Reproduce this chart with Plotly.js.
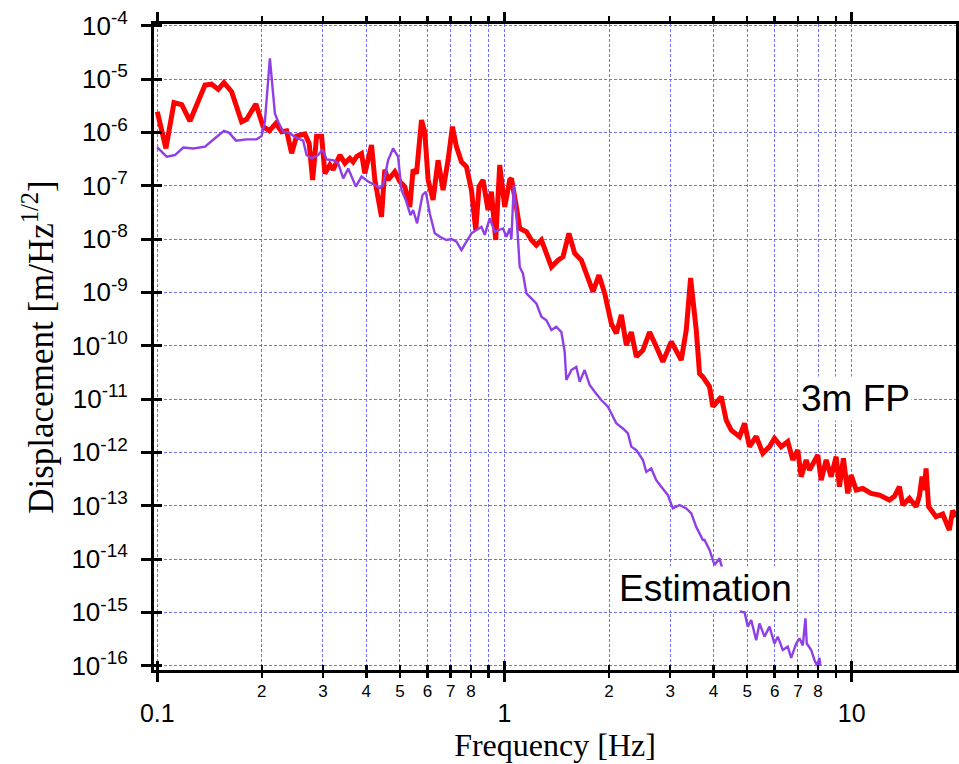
<!DOCTYPE html>
<html><head><meta charset="utf-8">
<script src="https://cdn.plot.ly/plotly-3.0.1.min.js"></script>
<style>html,body{margin:0;padding:0;background:#fff;}#chart{width:959px;height:764px;}</style>
</head><body><div id="chart"></div>
<script>
// 3m FP measured displacement spectrum
const fpFreq = [0.100,0.1059,0.1117,0.1176,0.1242,0.1372,0.1434,0.1498,0.1556,0.1637,0.1749,0.1808,0.1923,0.2018,0.2101,0.2196,0.228,0.2357,0.2437,0.2519,0.2661,0.2738,0.2801,0.2876,0.2973,0.3039,0.3141,0.3210,0.3357,0.347,0.3587,0.3664,0.3748,0.3874,0.3960,0.414,0.4232,0.4423,0.4521,0.4620,0.4831,0.4994,0.5162,0.5336,0.5454,0.5579,0.5767,0.5895,0.6025,0.6226,0.6436,0.6653,0.6877,0.7079,0.7270,0.7516,0.7769,0.8030,0.8263,0.8446,0.8673,0.8964,0.9168,0.9434,0.9687,1.0014,1.035,1.047,1.082,1.106,1.156,1.195,1.235,1.277,1.320,1.365,1.426,1.474,1.533,1.592,1.665,1.739,1.798,1.871,1.943,2.031,2.099,2.170,2.243,2.318,2.397,2.504,2.617,2.736,2.858,3.022,3.124,3.229,3.338,3.435,3.566,3.645,3.726,3.895,3.981,4.209,4.351,4.498,4.752,4.912,5.077,5.307,5.544,5.796,5.991,6.263,6.543,6.763,6.991,7.151,7.392,7.556,7.985,8.166,8.44,8.724,9.018,9.218,9.464,9.739,9.961,10.30,10.76,11.37,12.02,12.84,13.27,13.72,14.03,14.66,15.32,15.66,15.94,16.19,16.37,16.65,17.49,18.28,19.1,19.52,20.0];
const fpDisp = [2.44e-6,5.0e-7,3.6e-6,3.3e-6,1.63e-6,7.7e-6,8.0e-6,6.4e-6,8.55e-6,5.8e-6,1.58e-6,1.76e-6,3.4e-6,1.28e-6,1.07e-6,1.48e-6,1.03e-6,1.07e-6,4.05e-7,8.5e-7,9.3e-7,6.2e-7,1.28e-7,8.5e-7,8.5e-7,1.7e-7,2.45e-7,2.0e-7,3.76e-7,2.63e-7,3.26e-7,2.8e-7,3.5e-7,4.0e-7,1.7e-7,5.8e-7,1.28e-7,2.6e-8,2.0e-7,1.28e-7,1.83e-7,1.2e-7,9.6e-8,4.0e-8,2.0e-7,1.7e-7,1.7e-6,1.0e-6,1.28e-7,5.4e-8,3.0e-7,8.3e-8,3.0e-7,1.28e-6,5.4e-7,2.8e-7,2.27e-7,8.3e-8,1.48e-8,9.6e-8,1.28e-7,3.5e-8,7.7e-8,9.6e-9,2.45e-7,4.0e-8,1.28e-7,1.37e-7,4.0e-8,1.58e-8,1.37e-8,9.6e-9,7.7e-9,9.6e-9,5.4e-9,3.0e-9,4.0e-9,4.67e-9,1.28e-8,5.4e-9,4.0e-9,2.0e-9,1.03e-9,2.1e-9,9.6e-10,2.6e-10,1.7e-10,3.76e-10,1.03e-10,1.8e-10,6.2e-11,8.3e-11,1.8e-10,9.6e-11,5.0e-11,1.19e-10,7.8e-11,5.4e-11,1.97e-10,1.86e-9,1.97e-10,3.0e-11,2.6e-11,1.7e-11,7.2e-12,1.1e-11,4.0e-12,2.6e-12,1.97e-12,3.5e-12,1.28e-12,2.0e-12,9.6e-13,1.28e-12,1.83e-12,1.28e-12,1.6e-12,7.2e-13,1.1e-12,3.5e-13,7.2e-13,4.67e-13,8.9e-13,3.0e-13,7.2e-13,3.5e-13,8.3e-13,2.27e-13,7.7e-13,1.7e-13,3.76e-13,1.97e-13,2.1e-13,1.7e-13,1.58e-13,1.28e-13,1.5e-13,2.27e-13,1.03e-13,1.38e-13,9.6e-14,1.5e-13,3.5e-13,1.97e-13,5.0e-13,9.6e-14,6.2e-14,7.0e-14,3.5e-14,8.1e-14,6.2e-14];

// Estimation spectrum
const estFreq = [0.100,0.1064,0.1124,0.1188,0.1270,0.1372,0.1466,0.1556,0.1611,0.1685,0.1808,0.1932,0.1997,0.2041,0.2086,0.2110,0.2181,0.2229,0.2304,0.2382,0.2519,0.2631,0.2691,0.2782,0.2906,0.2992,0.3072,0.3210,0.3319,0.3431,0.3547,0.3731,0.3874,0.4048,0.4232,0.4373,0.4470,0.4620,0.4775,0.4937,0.5049,0.5195,0.5359,0.5454,0.5601,0.5804,0.5933,0.6092,0.6297,0.6510,0.6805,0.7035,0.7270,0.7516,0.7769,0.8030,0.8301,0.8581,0.8770,0.9066,0.9371,0.9687,0.9901,1.0127,1.035,1.047,1.063,1.082,1.106,1.130,1.156,1.195,1.235,1.277,1.320,1.365,1.410,1.458,1.490,1.507,1.558,1.610,1.646,1.701,1.759,1.818,1.900,1.985,2.031,2.099,2.193,2.267,2.318,2.397,2.504,2.560,2.646,2.736,2.828,2.954,3.054,3.193,3.338,3.451,3.566,3.726,3.768,3.851,3.895,3.981,4.026,4.161,4.209,4.807,4.912,5.02,5.134,5.307,5.425,5.607,5.796,5.991,6.124,6.330,6.543,6.692,6.918,7.071,7.228,7.357,7.421,7.642,7.809,7.950,8.072,8.126];
const estDisp = [5.25e-7,3.5e-7,3.76e-7,5.2e-7,5.0e-7,5.4e-7,7.75e-7,1.07e-6,9.8e-7,7.0e-7,7.4e-7,7.4e-7,8.5e-7,1.58e-6,9.6e-6,2.44e-5,2.27e-6,1.58e-6,1.03e-6,1.0e-6,7.9e-7,7.0e-7,3.76e-7,3.26e-7,3.76e-7,4.8e-7,3.1e-7,3.0e-7,2.63e-7,1.37e-7,2.1e-7,9.6e-8,1.48e-7,1.2e-7,1.03e-7,9.0e-8,1.03e-7,3.0e-7,5.0e-7,3.5e-7,8.3e-8,5.4e-8,2.8e-8,3.5e-8,1.97e-8,6.7e-8,7.7e-8,3.0e-8,1.28e-8,1.1e-8,9.6e-9,1.0e-8,8.9e-9,6.2e-9,8.9e-9,1.28e-8,1.48e-8,1.7e-8,1.2e-8,2.45e-8,1.37e-8,1.48e-8,1.58e-8,1.1e-8,1.58e-8,1.0e-8,1.03e-7,3.0e-8,3.0e-9,2.27e-9,9.6e-10,7.7e-10,6.2e-10,3.5e-10,3.0e-10,1.97e-10,2.27e-10,1.8e-10,7.7e-11,2.27e-11,3.5e-11,4.0e-11,2.1e-11,3.5e-11,1.83e-11,1.37e-11,9.6e-12,7.2e-12,5.4e-12,3.5e-12,2.8e-12,2.27e-12,1.28e-12,1.1e-12,7.2e-13,4.3e-13,5.0e-13,3.0e-13,2.27e-13,1.58e-13,8.9e-14,1.03e-13,8.9e-14,7.2e-14,4.0e-14,2.27e-14,2.27e-14,1.7e-14,1.48e-14,9.6e-15,7.7e-15,1.03e-14,7.7e-15,1.03e-15,1.0e-15,5.4e-16,7.2e-16,3.0e-16,6.2e-16,3.5e-16,5.4e-16,2.6e-16,3.5e-16,1.97e-16,2.27e-16,1.4e-16,2.6e-16,3.26e-16,2.4e-16,7.7e-16,2.6e-16,1.97e-16,1.28e-16,1.0e-16,1.4e-16,1.0e-16];

// Axis ticks
const xMajorTicks = [0.1, 1, 10];
const xMajorLabels = ['0.1', '1', '10'];
const xMinorTicks = [0.2,0.3,0.4,0.5,0.6,0.7,0.8,0.9,2,3,4,5,6,7,8,9,20];
const xMinorLabels = ['2','3','4','5','6','7','8','','2','3','4','5','6','7','8','','2'];
const yTicks = [1e-4,1e-5,1e-6,1e-7,1e-8,1e-9,1e-10,1e-11,1e-12,1e-13,1e-14,1e-15,1e-16];
const yExponents = ['-4','-5','-6','-7','-8','-9','-10','-11','-12','-13','-14','-15','-16'];
const yLabels = yExponents.map(e => '10<sup><span style="font-size:19px">' + e + '</span></sup>');

const XR = [-1.0095, 1.3003];
const YR = [-16.081, -3.968];
const SANS = 'Liberation Sans, Arial, sans-serif';
const SERIF = 'Liberation Serif, Times New Roman, serif';
const GRID = 'rgb(112,112,255)';
const DASH = '3px,2px';

const traces = [
  {x: fpFreq, y: fpDisp, type: 'scatter', mode: 'lines', line: {color: '#ff0000', width: 5}, name: '3m FP', hoverinfo: 'skip'},
  {x: estFreq, y: estDisp, type: 'scatter', mode: 'lines', line: {color: '#8f3fe6', width: 2.4}, name: 'Estimation', hoverinfo: 'skip'},
  {x: [], y: [], xaxis: 'x2', yaxis: 'y', type: 'scatter', mode: 'lines', showlegend: false, hoverinfo: 'skip'},
  {x: [], y: [], xaxis: 'x', yaxis: 'y2', type: 'scatter', mode: 'lines', showlegend: false, hoverinfo: 'skip'}
];

const layout = {
  width: 959, height: 764,
  margin: {l: 154, r: 3, t: 24, b: 94},
  paper_bgcolor: '#ffffff', plot_bgcolor: '#ffffff',
  showlegend: false,
  font: {family: SANS, color: '#000'},
  xaxis: {
    type: 'log', range: XR, tickmode: 'array', tickvals: xMajorTicks, ticktext: xMajorLabels,
    ticks: 'outside', ticklen: 9, tickwidth: 3, tickcolor: '#000',
    tickfont: {family: SANS, size: 25, color: '#000'}, ticklabelstandoff: 10,
    showline: true, linewidth: 3, linecolor: '#000', mirror: 'ticks',
    showgrid: true, gridcolor: GRID, gridwidth: 1, griddash: DASH, zeroline: false,
    minor: {tickmode: 'array', tickvals: xMinorTicks, ticks: 'outside', ticklen: 5, tickwidth: 2.5, tickcolor: '#000',
            showgrid: true, gridcolor: GRID, gridwidth: 1, griddash: DASH},
    title: {text: 'Frequency [Hz]', font: {family: SERIF, size: 32, color: '#000'}, standoff: 5}
  },
  xaxis2: {
    type: 'log', range: XR, overlaying: 'x', anchor: 'y', side: 'bottom',
    tickmode: 'array', tickvals: xMinorTicks, ticktext: xMinorLabels,
    ticks: 'inside', ticklen: 5, tickwidth: 2.5, tickcolor: '#000',
    tickfont: {family: SANS, size: 17, color: '#000'}, ticklabelstandoff: 9,
    showline: false, showgrid: false, zeroline: false,
    minor: {tickmode: 'array', tickvals: xMajorTicks, ticks: 'inside', ticklen: 9, tickwidth: 3, tickcolor: '#000', showgrid: false}
  },
  yaxis: {
    type: 'log', range: YR, tickmode: 'array', tickvals: yTicks, ticktext: yLabels,
    ticks: 'outside', ticklen: 10, tickwidth: 3, tickcolor: '#000',
    tickfont: {family: SANS, size: 26, color: '#000'}, ticklabelstandoff: 8,
    showline: true, linewidth: 3, linecolor: '#000', mirror: 'ticks',
    showgrid: true, gridcolor: GRID, gridwidth: 1, griddash: DASH, zeroline: false,
    title: {text: 'Displacement [m/Hz<sup>1/2</sup>]', font: {family: SERIF, size: 35, color: '#000'}, standoff: 8}
  },
  yaxis2: {
    type: 'log', range: YR, overlaying: 'y', anchor: 'x', side: 'left',
    tickmode: 'array', tickvals: yTicks, showticklabels: false,
    ticks: 'inside', ticklen: 8, tickwidth: 3, tickcolor: '#000',
    showline: false, showgrid: false, zeroline: false
  },
  annotations: [
    {xref: 'x', yref: 'y', x: 1.0106, y: -10.981, text: '3m FP', showarrow: false,
     font: {family: SANS, size: 37, color: '#000'}, bgcolor: '#ffffff', borderpad: 1},
    {xref: 'x', yref: 'y', x: 0.579, y: -14.544, text: 'Estimation', showarrow: false,
     font: {family: SANS, size: 37, color: '#000'}, bgcolor: '#ffffff', borderpad: 1}
  ]
};

Plotly.newPlot('chart', traces, layout, {staticPlot: true, displayModeBar: false});
</script>
</body></html>
